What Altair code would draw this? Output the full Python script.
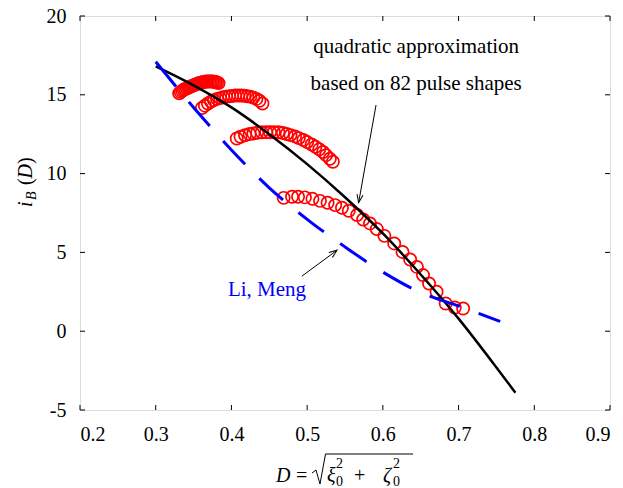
import math
import altair as alt
import pandas as pd

FONT = "Liberation Serif"
RED = "#ff0000"
BLUE = "#0000ff"

# ---- data -------------------------------------------------------------
# quadratic approximation i_B(D) (black curve)
quad_D = [0.30, 0.35, 0.40, 0.45, 0.50, 0.55, 0.60, 0.65, 0.70, 0.75, 0.775]
quad_i = [16.8, 15.6, 14.2, 12.5, 10.6, 8.5, 6.2, 3.6, 0.8, -2.3, -3.9]

# Li, Meng curve (blue dashed)
limeng_D = [0.30, 0.35, 0.40, 0.45, 0.50, 0.55, 0.60, 0.65, 0.70, 0.755]
limeng_i = [17.1, 14.2, 11.5, 9.1, 7.1, 5.35, 3.75, 2.45, 1.6, 0.62]

# pulse-shape results (red circles), four groups
set1_D = [0.331, 0.333, 0.335, 0.337, 0.339, 0.341, 0.343, 0.345, 0.347,
          0.349, 0.351, 0.353, 0.355, 0.357, 0.359, 0.361, 0.363, 0.365,
          0.367, 0.369, 0.371, 0.373, 0.375, 0.377, 0.379, 0.381, 0.383]
set1_i = [15.09, 15.18, 15.26, 15.32, 15.37, 15.41, 15.45, 15.50, 15.54,
          15.58, 15.62, 15.66, 15.70, 15.74, 15.77, 15.79, 15.81, 15.83,
          15.84, 15.85, 15.85, 15.85, 15.84, 15.83, 15.81, 15.78, 15.74]

set2_D = [0.361, 0.365, 0.369, 0.373, 0.377, 0.381, 0.385, 0.389, 0.393,
          0.397, 0.401, 0.405, 0.409, 0.413, 0.417, 0.421, 0.425, 0.429,
          0.433, 0.437, 0.441]
set2_i = [14.16, 14.31, 14.45, 14.57, 14.66, 14.74, 14.79, 14.84, 14.88,
          14.91, 14.93, 14.95, 14.95, 14.95, 14.94, 14.91, 14.88, 14.82,
          14.74, 14.62, 14.45]

set3_D = [0.407, 0.412, 0.418, 0.424, 0.429, 0.434, 0.440, 0.446, 0.451,
          0.456, 0.462, 0.468, 0.473, 0.478, 0.484, 0.489, 0.495, 0.500,
          0.506, 0.511, 0.516, 0.521, 0.525, 0.530, 0.534]
set3_i = [12.23, 12.34, 12.43, 12.51, 12.55, 12.59, 12.62, 12.63, 12.63,
          12.63, 12.62, 12.57, 12.51, 12.44, 12.36, 12.25, 12.13, 12.00,
          11.85, 11.70, 11.54, 11.37, 11.17, 10.94, 10.75]

set4_D = [0.469, 0.480, 0.488, 0.497, 0.507, 0.517, 0.527, 0.537, 0.546,
          0.555, 0.566, 0.574, 0.583, 0.592, 0.602, 0.615, 0.626, 0.636,
          0.645, 0.653, 0.661, 0.671, 0.683, 0.695, 0.706]
set4_i = [8.46, 8.53, 8.53, 8.49, 8.40, 8.27, 8.15, 8.00, 7.83,
          7.64, 7.37, 7.09, 6.84, 6.48, 6.05, 5.57, 5.03, 4.55,
          4.08, 3.56, 3.03, 2.50, 1.76, 1.50, 1.44]

x_ticks = [0.2, 0.3, 0.4, 0.5, 0.6, 0.7, 0.8, 0.9]
y_ticks = [-5, 0, 5, 10, 15, 20]

# annotation texts and arrows (data coordinates)
quad_label = ["quadratic approximation", "based on 82 pulse shapes"]
quad_label_D = [0.644, 0.644]
quad_label_i = [17.65, 15.32]
quad_arrow = (0.591, 14.35, 0.568, 8.16)      # tail D, tail i, tip D, tip i

limeng_label = "Li, Meng"
limeng_label_pos = (0.447, 2.22)
limeng_arrow = (0.493, 3.49, 0.5395, 5.14)

# ---- layout -----------------------------------------------------------
W, H = 530, 394
X_DOM, Y_DOM = [0.2, 0.9], [-5, 20]

x_scale = alt.Scale(domain=X_DOM, nice=False, zero=False)
y_scale = alt.Scale(domain=Y_DOM, nice=False, zero=False)
axis_style = dict(labelExpr="'' + datum.value", title=None, ticks=False,
                  tickSize=0, domain=False, grid=False, labelPadding=14,
                  labelFont=FONT, labelFontSize=20, labelColor="black")
x_axis = alt.Axis(values=x_ticks, **axis_style)
y_axis = alt.Axis(values=y_ticks, **axis_style)


def X(field="D"):
    return alt.X(f"{field}:Q", scale=x_scale, axis=x_axis)


def Y(field="i"):
    return alt.Y(f"{field}:Q", scale=y_scale, axis=y_axis)


one = pd.DataFrame({"k": [0]})

# ---- data layers ------------------------------------------------------
circles_df = pd.DataFrame({
    "D": set1_D + set2_D + set3_D + set4_D,
    "i": set1_i + set2_i + set3_i + set4_i,
})
circles = alt.Chart(circles_df).mark_point(
    shape="circle", filled=False, color=RED, size=150, strokeWidth=1.7, opacity=1
).encode(x=X(), y=Y())

quad = alt.Chart(pd.DataFrame({"D": quad_D, "i": quad_i})).mark_line(
    color="black", strokeWidth=2.5, interpolate="monotone"
).encode(x=X(), y=Y())

limeng = alt.Chart(pd.DataFrame({"D": limeng_D, "i": limeng_i})).mark_line(
    color=BLUE, strokeWidth=3, strokeDash=[32, 20], interpolate="monotone"
).encode(x=X(), y=Y())

# ---- inward ticks on all four sides -----------------------------------
TICK = 5
xt = pd.DataFrame({"D": x_ticks})
yt = pd.DataFrame({"i": y_ticks})
tick_style = dict(color="black", strokeWidth=1)
ticks = [
    alt.Chart(xt).mark_rule(**tick_style).encode(x=X(), y=alt.value(H), y2=alt.value(H - TICK)),
    alt.Chart(xt).mark_rule(**tick_style).encode(x=X(), y=alt.value(0), y2=alt.value(TICK)),
    alt.Chart(yt).mark_rule(**tick_style).encode(y=Y(), x=alt.value(0), x2=alt.value(TICK)),
    alt.Chart(yt).mark_rule(**tick_style).encode(y=Y(), x=alt.value(W), x2=alt.value(W - TICK)),
]

# ---- annotations ------------------------------------------------------
quad_text = alt.Chart(pd.DataFrame({"D": quad_label_D, "i": quad_label_i, "t": quad_label})).mark_text(
    font=FONT, fontSize=21, color="black", align="center", baseline="alphabetic"
).encode(x=X(), y=Y(), text="t:N")

limeng_text = alt.Chart(pd.DataFrame({"D": [limeng_label_pos[0]], "i": [limeng_label_pos[1]],
                                      "t": [limeng_label]})).mark_text(
    font=FONT, fontSize=21, color=BLUE, align="center", baseline="alphabetic"
).encode(x=X(), y=Y(), text="t:N")

HEAD = "M-0.38,1L0,0L0.38,1"


def arrow(a):
    d0, i0, d1, i1 = a
    dx = (d1 - d0) * W / (X_DOM[1] - X_DOM[0])
    dy = -(i1 - i0) * H / (Y_DOM[1] - Y_DOM[0])
    ang = math.degrees(math.atan2(dx, -dy)) % 360
    seg = pd.DataFrame({"D": [d0], "i": [i0], "D2": [d1], "i2": [i1]})
    shaft = alt.Chart(seg).mark_rule(color="black", strokeWidth=1).encode(
        x=X(), y=Y(), x2="D2:Q", y2="i2:Q")
    head = alt.Chart(pd.DataFrame({"D": [d1], "i": [i1]})).mark_point(
        shape=HEAD, filled=False, color="black", strokeWidth=1, size=256,
        angle=ang, opacity=1).encode(x=X(), y=Y())
    return [shaft, head]


# ---- axis titles (plot-pixel coordinates) -----------------------------
def txt(s, x, y, size=20, italic=False, angle=0):
    kw = dict(text=s, font=FONT, fontSize=size, color="black", align="left",
              baseline="alphabetic", fontStyle="italic" if italic else "normal")
    if angle:
        kw["angle"] = angle
    return alt.Chart(one).mark_text(**kw).encode(x=alt.value(x), y=alt.value(y))


XB = 466  # baseline of the x title
x_title = [
    txt("D", 196, XB, italic=True),
    txt("=", 216, XB),
    txt("\u03be", 247, XB, italic=True),
    txt("0", 256, XB + 4, size=14),
    txt("2", 256, XB - 14, size=14),
    txt("+", 274, XB),
    txt("\u03b6", 303, XB, italic=True),
    txt("0", 313, XB + 4, size=14),
    txt("2", 313, XB - 14, size=14),
]
radical = alt.Chart(pd.DataFrame({
    "px": [232, 236, 240, 245.5, 333],
    "py": [457, 454, 468, 438, 438],
    "o": [0, 1, 2, 3, 4],
})).mark_line(color="black", strokeWidth=1).encode(
    x=alt.X("px:Q", scale=None), y=alt.Y("py:Q", scale=None), order="o:O")

YB = -48  # baseline of the rotated y title
y_title = [
    txt("i", YB, 191, italic=True, angle=270),
    txt("B", YB + 4, 184, size=14, italic=True, angle=270),
    txt("(", YB, 169, angle=270),
    txt("D", YB, 162.5, italic=True, angle=270),
    txt(")", YB, 148, angle=270),
]

layers = ([circles, quad, limeng] + ticks + [quad_text, limeng_text]
          + arrow(quad_arrow) + arrow(limeng_arrow) + x_title + [radical] + y_title)

chart = alt.layer(*layers).properties(
    width=W, height=H,
    autosize=alt.AutoSizeParams(type="none"),
    padding={"left": 80, "top": 16, "right": 13, "bottom": 78},
).configure_view(stroke="black", strokeWidth=1.2).configure(background="white")

chart.save("out.html", embed_options={"renderer": "svg", "actions": False})
